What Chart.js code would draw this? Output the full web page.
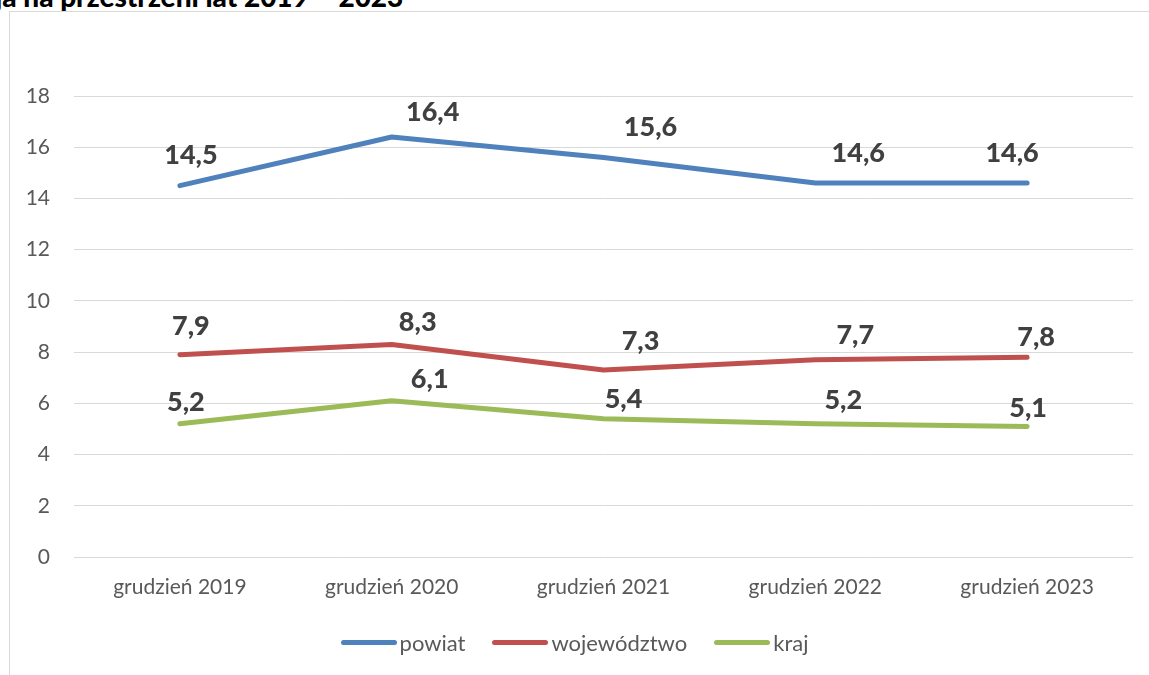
<!DOCTYPE html>
<html>
<head>
<meta charset="utf-8">
<script src="https://cdn.jsdelivr.net/npm/chart.js@4"></script>
<style>
  html, body { margin: 0; padding: 0; background: #fff; overflow: hidden; }
  body { width: 1149px; height: 675px; position: relative; font-family: Lato, "Noto Sans", sans-serif; }
  #title { position: absolute; left: -5px; top: -20px; font: 900 28px Lato, "Noto Sans", sans-serif; line-height: 32px; color: #000; white-space: nowrap; }
  #frame { position: absolute; left: 9px; top: 11px; width: 1200px; height: 700px; border-left: 1px solid #d9d9d9; border-top: 1px solid #d9d9d9; }
  #wrap { position: absolute; left: 0; top: 0; width: 1149px; height: 675px; }
  #legend { position: absolute; left: 0; top: 629px; width: 1149px; display: flex; justify-content: center; gap: 27px; font-size: 22px; color: #595959; }
  .item { display: flex; align-items: center; }
  .swatch { width: 56px; height: 5px; border-radius: 3px; margin-right: 3px; }
</style>
</head>
<body>
<div id="title">ja na przestrzeni lat 2019 – 2023</div>
<div id="frame"></div>
<div id="wrap"><canvas id="chart" width="1149" height="675"></canvas></div>
<div id="legend"></div>
<script>
// data
const categories = ["grudzień 2019", "grudzień 2020", "grudzień 2021", "grudzień 2022", "grudzień 2023"]
const powiat = [14.5, 16.4, 15.6, 14.6, 14.6]
const wojewodztwo = [7.9, 8.3, 7.3, 7.7, 7.8]
const kraj = [5.2, 6.1, 5.4, 5.2, 5.1]
const seriesNames = ["powiat", "województwo", "kraj"]
const yTicks = [0, 2, 4, 6, 8, 10, 12, 14, 16, 18]

// where each value label sits relative to its point (dx, dy)
const labelOffsets = [
  [[11, -30], [41, -25], [47, -30], [43, -30], [-15, -30]],
  [[11, -28], [26, -22], [37, -29], [40, -24], [9, -20]],
  [[6, -22], [38, -21], [20, -19], [28, -24], [1, -18]],
]
const colors = ["#4f81bd", "#c0504d", "#9bbb59"]

const valueLabels = {
  id: "valueLabels",
  afterDatasetsDraw(chart) {
    const ctx = chart.ctx
    ctx.save()
    ctx.font = "900 27px Lato, 'Noto Sans', sans-serif"
    ctx.fillStyle = "#404040"
    ctx.textAlign = "center"
    ctx.textBaseline = "middle"
    chart.data.datasets.forEach((ds, i) => {
      chart.getDatasetMeta(i).data.forEach((pt, j) => {
        const off = labelOffsets[i][j]
        ctx.fillText(ds.data[j].toFixed(1).replace(".", ","), pt.x + off[0], pt.y + off[1])
      })
    })
    ctx.restore()
  },
}

const seriesData = [powiat, wojewodztwo, kraj]

new Chart(document.getElementById("chart"), {
  type: "line",
  data: {
    labels: categories,
    datasets: seriesData.map((d, i) => ({
      label: seriesNames[i],
      data: d,
      borderColor: colors[i],
      backgroundColor: colors[i],
      borderWidth: 5,
      borderCapStyle: "round",
      borderJoinStyle: "round",
      pointRadius: 0,
      tension: 0,
    })),
  },
  options: {
    responsive: false,
    animation: false,
    layout: { padding: { left: 0, top: 96, right: 16, bottom: 0 } },
    plugins: { legend: { display: false }, tooltip: { enabled: false } },
    scales: {
      x: {
        offset: true,
        grid: { display: false, drawTicks: false },
        border: { display: false },
        ticks: { color: "#595959", font: { size: 21, family: "Lato" }, padding: 18, maxRotation: 0 },
        afterFit: (s) => { s.height = 118 },
      },
      y: {
        min: 0,
        max: 18,
        afterBuildTicks: (s) => { s.ticks = yTicks.map((v) => ({ value: v })) },
        grid: { color: "#d9d9d9", lineWidth: 1, drawTicks: false },
        border: { display: false },
        ticks: { color: "#595959", font: { size: 21, family: "Lato" }, padding: 24 },
        afterFit: (s) => { s.width = 74 },
      },
    },
  },
  plugins: [valueLabels],
})

const legend = document.getElementById("legend")
seriesNames.forEach((name, i) => {
  const item = document.createElement("div")
  item.className = "item"
  item.innerHTML = `<span class="swatch" style="background:${colors[i]}"></span><span>${name}</span>`
  legend.appendChild(item)
})
</script>
</body>
</html>
